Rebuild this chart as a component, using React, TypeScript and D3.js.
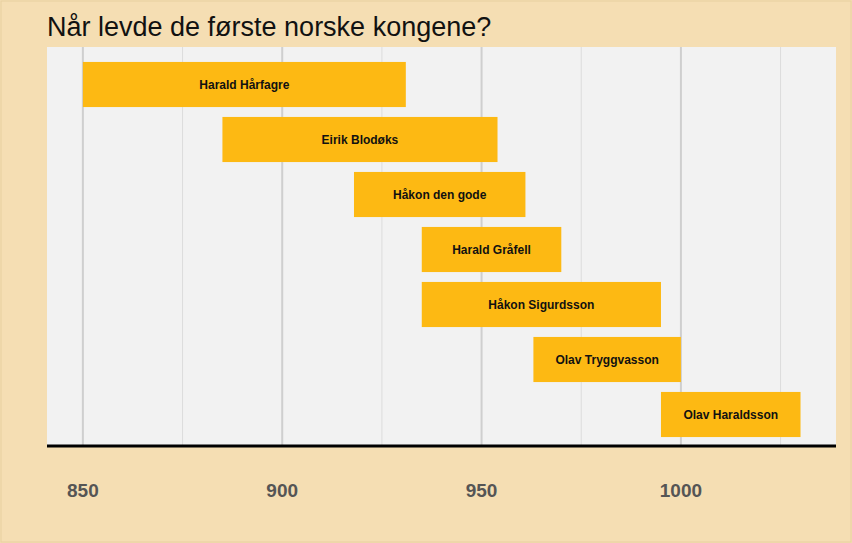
import React from 'react';
import * as d3 from 'd3';

const kings = ['Harald Hårfagre', 'Eirik Blodøks', 'Håkon den gode', 'Harald Gråfell', 'Håkon Sigurdsson', 'Olav Tryggvasson', 'Olav Haraldsson'];
const starts = [850, 885, 918, 935, 935, 963, 995];
const ends = [931, 954, 961, 970, 995, 1000, 1030];
const majorTicks = [850, 900, 950, 1000];
const minorTicks = [875, 925, 975, 1025];

const W = 852, H = 543;
const left = 47, right = 836, top = 47, bottom = 446;

export default function App() {
  const x = d3.scaleLinear().domain([841, 1038.9]).range([left, right]);
  const y = d3.scaleBand<string>().domain(kings).range([57, 442]).paddingInner(0.18).paddingOuter(0.09);
  return (
    <svg width={W} height={H} style={{ position: 'absolute', left: 0, top: 0 }} fontFamily="Liberation Sans, Arial, sans-serif">
      <rect x={0} y={0} width={W} height={H} fill="#f5deb3" />
      <rect x={1} y={1} width={W - 2} height={H - 2} fill="none" stroke="#e8cfa0" />
      <text x={47} y={36} fontSize={27} fill="#111">Når levde de første norske kongene?</text>
      <rect x={left} y={top} width={right - left} height={bottom - top} fill="#f2f2f2" />
      {minorTicks.map(t => <line key={t} x1={x(t)} x2={x(t)} y1={top} y2={bottom} stroke="#dcdcdc" strokeWidth={1} />)}
      {majorTicks.map(t => <line key={t} x1={x(t)} x2={x(t)} y1={top} y2={bottom} stroke="#cfcfcf" strokeWidth={2} />)}
      {kings.map((k, i) => {
        const y0 = (y(k) as number);
        return (
          <g key={k}>
            <rect x={x(starts[i])} y={y0} width={x(ends[i]) - x(starts[i])} height={y.bandwidth()} fill="#fdb913" />
            <text x={(x(starts[i]) + x(ends[i])) / 2} y={y0 + y.bandwidth() / 2 + 4} textAnchor="middle" fontSize={12} fontWeight="bold" fill="#111">{k}</text>
          </g>
        );
      })}
      <line x1={left} x2={right} y1={bottom} y2={bottom} stroke="#000" strokeWidth={3} />
      {majorTicks.map(t => (
        <text key={t} x={x(t)} y={497} textAnchor="middle" fontSize={19} fontWeight="bold" fill="#555">{t}</text>
      ))}
    </svg>
  );
}
